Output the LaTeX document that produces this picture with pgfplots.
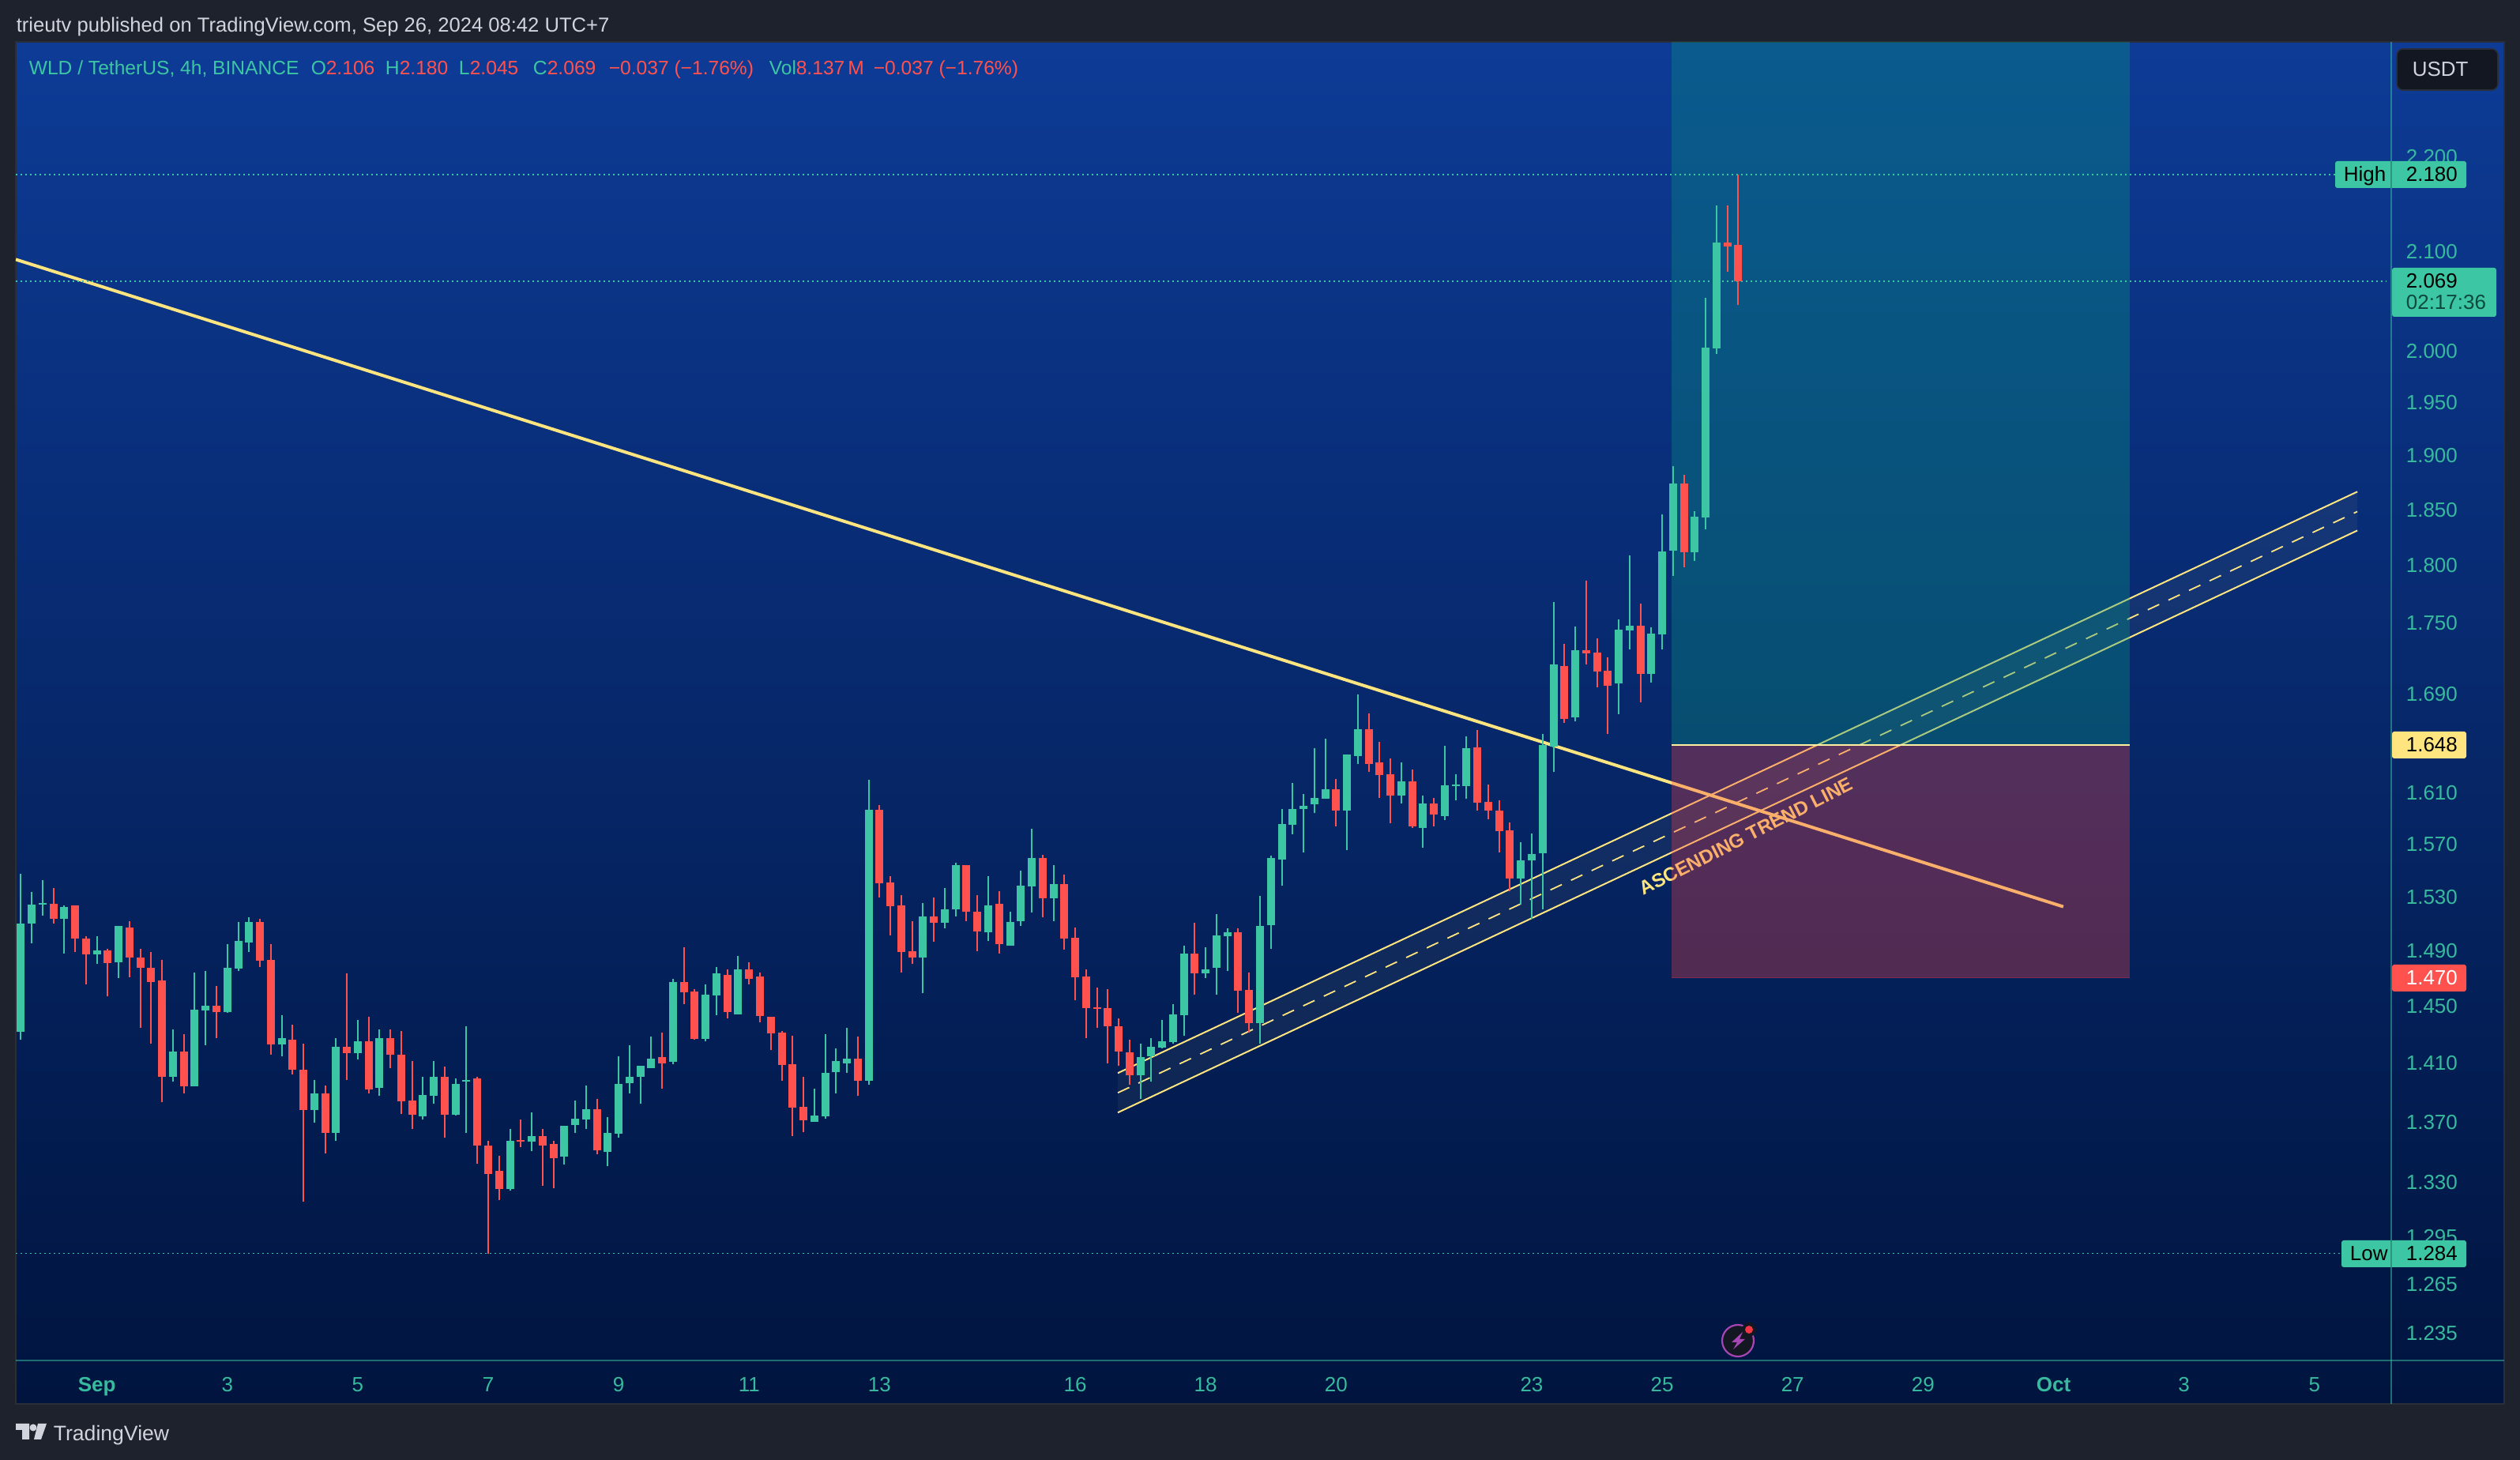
\documentclass[border=0pt]{standalone}
\usepackage{fontspec}
\setmainfont{Liberation Sans}
\usepackage{pgfplots}
\usepackage{pgfplotstable}
\pgfplotsset{compat=1.18}
\definecolor{frameBg}{RGB}{30,34,45}
\definecolor{paneBorder}{RGB}{42,46,57}
\definecolor{upc}{RGB}{61,198,163}
\definecolor{dnc}{RGB}{255,82,79}
\definecolor{ticktxt}{RGB}{55,186,157}
\definecolor{yel}{RGB}{255,229,127}
\definecolor{txtgrey}{RGB}{209,212,220}
\definecolor{longc}{RGB}{8,153,129}
\definecolor{shortc}{RGB}{242,66,69}
\definecolor{bgtop}{RGB}{13,59,150}
\definecolor{bgbot}{RGB}{0,20,62}
\definecolor{iconbg}{RGB}{19,23,34}
\definecolor{iconp}{RGB}{168,69,181}
\definecolor{iconr}{RGB}{242,54,69}
\definecolor{tmr}{RGB}{12,74,62}
\definecolor{entryl}{RGB}{255,240,160}
\definecolor{stopl}{RGB}{130,45,80}
\pgfplotstableread{
i o h l c
0 1.4315 1.5467 1.4261 1.5099
1 1.5099 1.5334 1.4949 1.5240
2 1.5240 1.5419 1.5156 1.5252
4 1.5133 1.5229 1.4879 1.5217
7 1.4872 1.5006 1.4800 1.4897
9 1.4811 1.5076 1.4695 1.5076
14 1.4001 1.4331 1.3969 1.4180
16 1.3937 1.4736 1.3937 1.4470
17 1.4464 1.4747 1.4220 1.4499
19 1.4453 1.4948 1.4449 1.4770
20 1.4763 1.5106 1.4747 1.4965
21 1.4958 1.5145 1.4890 1.5106
24 1.4226 1.4430 1.4147 1.4270
27 1.3776 1.3979 1.3689 1.3888
29 1.3620 1.4270 1.3568 1.4208
31 1.4165 1.4397 1.4121 1.4248
33 1.3926 1.4331 1.3871 1.4270
37 1.3734 1.4005 1.3710 1.3877
38 1.3871 1.4110 1.3818 1.4005
40 1.3744 1.3990 1.3738 1.3954
41 1.3969 1.4357 1.3620 1.3980
45 1.3251 1.3647 1.3241 1.3568
47 1.3563 1.3759 1.3499 1.3599
50 1.3464 1.3668 1.3411 1.3668
51 1.3675 1.3839 1.3620 1.3717
52 1.3710 1.3941 1.3647 1.3780
54 1.3495 1.3727 1.3400 1.3620
55 1.3616 1.4147 1.3588 1.3954
56 1.3958 1.4220 1.3888 1.4001
57 1.4001 1.4077 1.3819 1.4077
58 1.4060 1.4280 1.4060 1.4126
60 1.4104 1.4690 1.4088 1.4667
63 1.4264 1.4650 1.4249 1.4577
64 1.4571 1.4776 1.4430 1.4730
66 1.4441 1.4856 1.4436 1.4759
73 1.3695 1.3920 1.3695 1.3737
74 1.3732 1.4297 1.3716 1.4028
75 1.4033 1.4198 1.3887 1.4109
76 1.4093 1.4346 1.4028 1.4126
78 1.3974 1.6198 1.3947 1.5961
83 1.4844 1.5247 1.4588 1.5147
85 1.5100 1.5365 1.5059 1.5199
86 1.5199 1.5551 1.5147 1.5539
89 1.5030 1.5449 1.4966 1.5229
91 1.4931 1.5187 1.4931 1.5106
92 1.5112 1.5496 1.5077 1.5377
93 1.5371 1.5818 1.5176 1.5587
95 1.5282 1.5539 1.5117 1.5389
103 1.4012 1.4231 1.3850 1.4137
104 1.4142 1.4269 1.3968 1.4209
105 1.4203 1.4397 1.4198 1.4247
106 1.4242 1.4509 1.4231 1.4436
107 1.4430 1.4936 1.4286 1.4879
109 1.4730 1.4919 1.4696 1.4759
110 1.4770 1.5170 1.4577 1.5007
111 1.5001 1.5059 1.4748 1.5030
114 1.4374 1.5300 1.4235 1.5077
115 1.5084 1.5606 1.4909 1.5588
116 1.5581 1.5967 1.5377 1.5849
117 1.5845 1.6178 1.5770 1.5967
118 1.5972 1.6090 1.5630 1.5997
119 1.6004 1.6451 1.5936 1.6058
120 1.6051 1.6527 1.6047 1.6127
122 1.5960 1.6404 1.5648 1.6399
123 1.6392 1.6891 1.6329 1.6610
127 1.6072 1.6336 1.6011 1.6190
129 1.5824 1.6076 1.5666 1.6011
131 1.5911 1.6470 1.5881 1.6157
132 1.6153 1.6246 1.6040 1.6164
133 1.6153 1.6546 1.6047 1.6451
138 1.5432 1.5709 1.5240 1.5570
139 1.5570 1.5777 1.5129 1.5619
140 1.5624 1.6565 1.5201 1.6477
141 1.6468 1.7680 1.6260 1.7140
143 1.6701 1.7468 1.6668 1.7262
147 1.6981 1.7529 1.6727 1.7437
148 1.7430 1.8090 1.7269 1.7475
150 1.7062 1.7457 1.6988 1.7403
151 1.7396 1.8452 1.7269 1.8119
152 1.8126 1.8898 1.7908 1.8738
154 1.8112 1.8481 1.8040 1.8430
155 1.8423 2.0518 1.8317 2.0029
156 2.0021 2.1469 1.9963 2.1086
}\upcandles
\pgfplotstableread{
i o h l c
3 1.5245 1.5365 1.5099 1.5133
5 1.5229 1.5229 1.4890 1.4983
6 1.4988 1.5006 1.4654 1.4872
8 1.4897 1.4908 1.4570 1.4804
10 1.5069 1.5117 1.4706 1.4845
11 1.4849 1.4908 1.4342 1.4770
12 1.4770 1.4890 1.4230 1.4672
13 1.4679 1.4827 1.3829 1.4001
15 1.4180 1.4298 1.3888 1.3937
18 1.4499 1.4638 1.4270 1.4453
22 1.5106 1.5129 1.4775 1.4822
23 1.4827 1.4948 1.4158 1.4226
25 1.4259 1.4368 1.4018 1.4054
26 1.4050 1.4230 1.3169 1.3776
28 1.3888 1.3941 1.3488 1.3620
30 1.4208 1.4730 1.3979 1.4165
32 1.4248 1.4419 1.3888 1.3914
34 1.4270 1.4331 1.4060 1.4154
35 1.4158 1.4320 1.3748 1.3835
36 1.3839 1.4110 1.3647 1.3744
39 1.4005 1.4075 1.3588 1.3744
42 1.3990 1.4001 1.3416 1.3540
43 1.3536 1.3568 1.2840 1.3353
44 1.3369 1.3468 1.3179 1.3251
46 1.3574 1.3710 1.3526 1.3563
48 1.3599 1.3647 1.3275 1.3540
49 1.3547 1.3568 1.3255 1.3452
53 1.3780 1.3850 1.3478 1.3505
59 1.4137 1.4308 1.3920 1.4093
61 1.4667 1.4919 1.4509 1.4593
62 1.4599 1.4616 1.4258 1.4264
65 1.4719 1.4759 1.4408 1.4453
67 1.4759 1.4810 1.4650 1.4690
68 1.4707 1.4736 1.4380 1.4425
69 1.4419 1.4419 1.4187 1.4302
70 1.4308 1.4319 1.3978 1.4082
71 1.4088 1.4286 1.3600 1.3790
72 1.3796 1.4001 1.3626 1.3705
77 1.4126 1.4280 1.3871 1.3974
79 1.5961 1.5998 1.5290 1.5395
80 1.5401 1.5449 1.5007 1.5223
81 1.5229 1.5306 1.4736 1.4890
82 1.4896 1.5117 1.4798 1.4844
84 1.5147 1.5290 1.4960 1.5100
87 1.5539 1.5539 1.5117 1.5182
88 1.5187 1.5306 1.4896 1.5041
90 1.5241 1.5340 1.4879 1.4942
94 1.5587 1.5617 1.5141 1.5282
96 1.5389 1.5466 1.4907 1.4983
97 1.4989 1.5070 1.4537 1.4701
98 1.4707 1.4759 1.4269 1.4481
99 1.4487 1.4627 1.4341 1.4476
100 1.4481 1.4616 1.4098 1.4352
101 1.4357 1.4408 1.4077 1.4175
102 1.4170 1.4258 1.3947 1.4012
108 1.4879 1.5100 1.4577 1.4730
112 1.5030 1.5059 1.4448 1.4605
113 1.4610 1.4736 1.4308 1.4374
121 1.6127 1.6209 1.5831 1.5960
124 1.6610 1.6739 1.6265 1.6329
125 1.6336 1.6508 1.6058 1.6235
126 1.6242 1.6369 1.5856 1.6072
128 1.6190 1.6284 1.5820 1.5831
130 1.6015 1.6058 1.5831 1.5924
134 1.6456 1.6598 1.5960 1.6020
135 1.6027 1.6164 1.5888 1.5954
136 1.5960 1.6040 1.5630 1.5795
137 1.5802 1.5867 1.5337 1.5432
142 1.7130 1.7320 1.6655 1.6694
144 1.7262 1.7866 1.7140 1.7235
145 1.7241 1.7361 1.6951 1.7082
146 1.7089 1.7207 1.6565 1.6968
149 1.7475 1.7666 1.6831 1.7062
153 1.8738 1.8813 1.7978 1.8112
157 2.1082 2.1469 2.0783 2.1048
158 2.1060 2.1800 2.0450 2.0690
}\downcandles
\newcommand{\lab}[5][6.5]{\node[anchor=base west,inner sep=0pt,text=#4] at (#2,#3){\fontsize{#1}{#1}\selectfont #5};}
\begin{document}
\begin{tikzpicture}
\path[use as bounding box,fill=frameBg] (0,0) rectangle (797.5pt,462pt);
\begin{scope}[x=.25pt,y=-.25pt,shift={(0pt,462pt)}]
\shade[top color=bgtop,bottom color=bgbot] (20,53) rectangle (3170,1777);
\draw[paneBorder,line width=.5pt] (20,53) rectangle (3170,1777);
\end{scope}
\begin{axis}[
  at={(5pt,31.38pt)},anchor=south west,scale only axis,
  width=751.75pt,height=417.25pt,
  ymode=log,
  xmin=-0.458,xmax=218.07,ymin=1.2181,ymax=2.3263,
  axis line style={draw=none},tick style={draw=none},major tick length=0pt,
  minor tick num=0,
  ytick={2.2,2.1,2.0,1.95,1.9,1.85,1.8,1.75,1.69,1.61,1.57,1.53,1.49,1.45,1.41,1.37,1.33,1.295,1.265,1.235},
  yticklabels={2.200,2.100,2.000,1.950,1.900,1.850,1.800,1.750,1.690,1.610,1.570,1.530,1.490,1.450,1.410,1.370,1.330,1.295,1.265,1.235},
  yticklabel pos=right,
  yticklabel style={anchor=west,inner sep=0pt,xshift=4.5pt,yshift=-.2pt,text=ticktxt,font=\fontsize{6.5}{6.5}\selectfont},
  xtick={7,19,31,43,55,67,79,97,109,121,139,151,163,175,187,199,211},
  xticklabels={\textbf{Sep},3,5,7,9,11,13,16,18,20,23,25,27,29,\textbf{Oct},3,5},
  xticklabel style={anchor=base,yshift=-9.8pt,inner sep=0pt,text=ticktxt,font=\fontsize{6.5}{6.5}\selectfont},
  clip=true,
]
% channel
\addplot[draw=none,fill=yel,fill opacity=.05,forget plot] coordinates {(100.92,1.4028)(214.95,1.8659)(214.95,1.8308)(100.92,1.3759)} --cycle;
\addplot[yel,line width=.5pt,forget plot] coordinates {(100.92,1.4028)(214.95,1.8659)};
\addplot[yel,line width=.5pt,forget plot] coordinates {(100.92,1.3759)(214.95,1.8308)};
\addplot[yel,line width=.45pt,dash pattern=on 4pt off 3.2pt,forget plot] coordinates {(100.92,1.3893)(214.95,1.8479)};
% trend line
\addplot[yel,line width=1pt,forget plot] coordinates {(-0.46,2.0911)(187.9,1.5222)};
\addplot[draw=none,forget plot] coordinates {(158.7,1.5756)} node[rotate=26.9,text=yel,inner sep=0pt,font=\fontsize{6.1}{6.1}\selectfont\bfseries]{ASCENDING TREND LINE};
% position rectangles
\addplot[draw=none,fill=longc,fill opacity=.34,forget plot] coordinates {(151.87,1.648)(194.02,1.648)(194.02,2.4)(151.87,2.4)} --cycle;
\addplot[draw=none,fill=shortc,fill opacity=.33,forget plot] coordinates {(151.87,1.47)(194.02,1.47)(194.02,1.648)(151.87,1.648)} --cycle;
\addplot[entryl,line width=.5pt,forget plot] coordinates {(151.87,1.648)(194.02,1.648)};
\addplot[stopl,line width=.4pt,forget plot] coordinates {(151.87,1.47)(194.02,1.47)};
% high / last / low lines
\addplot[upc,line width=.45pt,dash pattern=on .5pt off 1pt,forget plot] coordinates {(-0.46,2.18)(212.9,2.18)};
\addplot[upc,line width=.45pt,dash pattern=on .5pt off 1pt,forget plot] coordinates {(-0.46,2.069)(217.6,2.069)};
\addplot[upc,line width=.45pt,dash pattern=on .5pt off 1pt,forget plot] coordinates {(-0.46,1.284)(213.5,1.284)};
% wicks
\addplot[draw=none,mark=none,forget plot,error bars/.cd,y dir=plus,y explicit,error mark=none,error bar style={draw=upc,line width=.5pt}] table[x=i,y=l,y error plus expr=\thisrow{h}-\thisrow{l}] {\upcandles};
\addplot[draw=none,mark=none,forget plot,error bars/.cd,y dir=plus,y explicit,error mark=none,error bar style={draw=dnc,line width=.5pt}] table[x=i,y=l,y error plus expr=\thisrow{h}-\thisrow{l}] {\downcandles};
% bodies
\addplot[draw=none,mark=none,forget plot,error bars/.cd,y dir=plus,y explicit,error mark=none,error bar style={draw=upc,line width=2.5pt}] table[x=i,y=o,y error plus expr=\thisrow{c}-\thisrow{o}] {\upcandles};
\addplot[draw=none,mark=none,forget plot,error bars/.cd,y dir=plus,y explicit,error mark=none,error bar style={draw=dnc,line width=2.5pt}] table[x=i,y=c,y error plus expr=\thisrow{o}-\thisrow{c}] {\downcandles};
\end{axis}
\begin{scope}[x=.25pt,y=-.25pt,shift={(0pt,462pt)}]
% separators
\draw[upc,opacity=.5,line width=.5pt] (3027,53)--(3027,1777);
\draw[upc,opacity=.5,line width=.5pt] (20,1722)--(3170,1722);
% header text
\lab[6.4]{20}{41}{txtgrey}{trieutv published on TradingView.com, Sep 26, 2024 08:42 UTC+7}
\lab[6.15]{36}{95}{upc}{WLD / TetherUS, 4h, BINANCE}
\lab[6.15]{393}{95}{upc}{O}\lab[6.15]{412}{95}{dnc}{2.106}
\lab[6.15]{487}{95}{upc}{H}\lab[6.15]{505}{95}{dnc}{2.180}
\lab[6.15]{580}{95}{upc}{L}\lab[6.15]{594}{95}{dnc}{2.045}
\lab[6.15]{674}{95}{upc}{C}\lab[6.15]{692}{95}{dnc}{2.069}
\lab[6.15]{770}{95}{dnc}{−0.037 (−1.76\%)}
\lab[6.15]{973}{95}{upc}{Vol}\lab[6.15]{1007}{95}{dnc}{8.137\,M}
\lab[6.15]{1105}{95}{dnc}{−0.037 (−1.76\%)}
% USDT
\draw[fill=iconbg,draw=paneBorder,line width=.4pt,rounded corners=2pt] (3034,62) rectangle (3162,114);
\lab{3053}{97}{txtgrey}{USDT}
% High box
\fill[upc,rounded corners=.7pt] (2956,204) rectangle (3122,238);
\lab{2966}{230}{black}{High}\lab{3045}{230}{black}{2.180}
\draw[upc!75!black,line width=.4pt] (3027,204)--(3027,238);
% last price
\fill[upc,rounded corners=.7pt] (3028,339) rectangle (3160,401);
\lab{3045}{365}{black}{2.069}
\lab{3045}{392}{tmr}{02:17:36}
% entry / stop
\fill[yel,rounded corners=.7pt] (3028,926) rectangle (3122,960);
\lab{3045}{952}{black}{1.648}
\fill[dnc,rounded corners=.7pt] (3028,1221) rectangle (3122,1255);
\lab{3045}{1247}{white}{1.470}
% Low box
\fill[upc,rounded corners=.7pt] (2964,1570) rectangle (3122,1604);
\lab{2974}{1596}{black}{Low}\lab{3045}{1596}{black}{1.284}
\draw[upc!75!black,line width=.4pt] (3027,1570)--(3027,1604);
% icon
\draw[fill=iconbg,draw=iconp,line width=.55pt] (2200,1697) circle[radius=20];
\fill[iconbg] (2214,1683) circle[radius=9];
\fill[iconr] (2214,1683) circle[radius=5];
\fill[iconp] (2206,1686)--(2192,1699)--(2199,1699)--(2194,1708)--(2209,1695)--(2202,1695)--cycle;
% logo
\fill[txtgrey] (20,1802)--(37,1802)--(37,1822)--(28,1822)--(28,1810)--(20,1810)--cycle;
\fill[txtgrey] (42,1807) circle[radius=4.5];
\fill[txtgrey] (48,1802)--(59,1802)--(52,1822)--(43,1822)--cycle;
\lab[6.65]{67}{1824}{txtgrey}{TradingView}
\end{scope}
\end{tikzpicture}
\end{document}
